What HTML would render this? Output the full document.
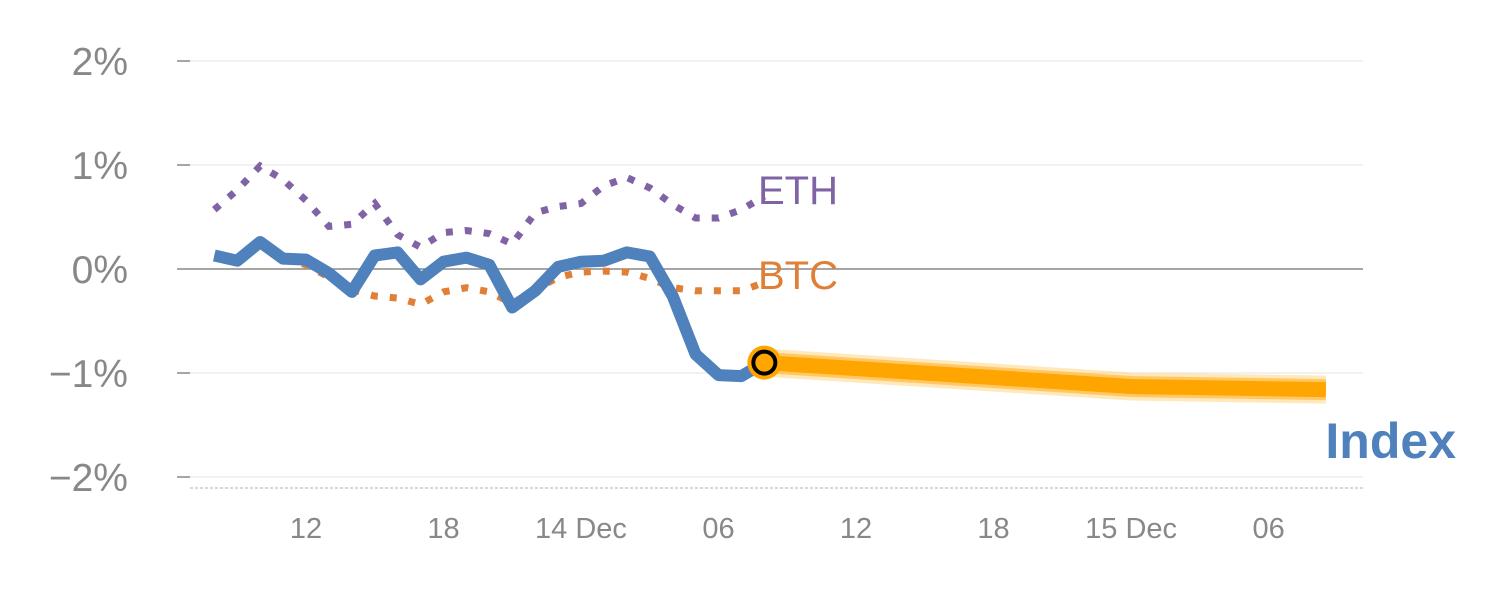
<!DOCTYPE html>
<html><head><meta charset="utf-8"><style>
body{margin:0;background:#fff;}
svg{display:block;font-family:"Liberation Sans",sans-serif;}
</style></head><body>
<svg id="chart" width="1500" height="600" viewBox="0 0 1500 600"></svg>
<script>
const yTicks=[2,1,0,-1,-2];
const xTickHours=[-12,-6,0,6,12,18,24,30];
const xTickLabels=["12","18","14 Dec","06","12","18","15 Dec","06"];
const histHours=[-16,-15,-14,-13,-12,-11,-10,-9,-8,-7,-6,-5,-4,-3,-2,-1,0,1,2,3,4,5,6,7,8];
const indexVals=[0.13,0.08,0.26,0.10,0.09,-0.04,-0.22,0.13,0.16,-0.10,0.07,0.11,0.04,-0.37,-0.21,0.02,0.07,0.08,0.16,0.12,-0.26,-0.82,-1.02,-1.03,-0.90];
const btcVals=[0.12,0.10,0.22,0.10,0.04,-0.08,-0.20,-0.26,-0.28,-0.34,-0.22,-0.18,-0.22,-0.33,-0.20,-0.08,-0.03,-0.02,-0.03,-0.09,-0.18,-0.21,-0.21,-0.21,-0.13];
const ethVals=[0.57,0.76,0.99,0.86,0.66,0.41,0.43,0.63,0.33,0.21,0.35,0.37,0.34,0.24,0.54,0.60,0.63,0.80,0.88,0.78,0.62,0.49,0.49,0.57,0.70];
const fcHours=[8,24,32.5];
const fcVals=[-0.90,-1.13,-1.16];

const svg=document.getElementById('chart');
const NS='http://www.w3.org/2000/svg';
const X=h=>581+22.92*h;
const Y=v=>269-104*v;
function mk(tag,attrs,parent){const e=document.createElementNS(NS,tag);for(const k in attrs)e.setAttribute(k,attrs[k]);(parent||svg).appendChild(e);return e;}

yTicks.forEach(v=>{
  const g=mk('line',{x1:190,x2:1363,y1:Y(v),y2:Y(v),stroke:v===0?'#888':'#e3e3e3','stroke-width':v===0?1.5:1});
  
  
  const t=mk('line',{x1:177,x2:190,y1:Y(v),y2:Y(v),stroke:'#888','stroke-width':1.5});
  
  
  const l=mk('text',{x:128,y:Y(v)+14,'text-anchor':'end','font-size':39,fill:'#888'});
  l.textContent=(v<0?'\u2212':'')+Math.abs(v)+'%';
  
  
});
const base=mk('line',{x1:190,x2:1363,y1:488,y2:488,stroke:'#ccc','stroke-width':1.5,'stroke-dasharray':'3 2'});


xTickHours.forEach((h,i)=>{
  const l=mk('text',{x:X(h),y:538,'text-anchor':'middle','font-size':29,fill:'#888'});
  l.textContent=xTickLabels[i];
  
  
});
function pts(hs,vs){return hs.map((h,i)=>X(h).toFixed(1)+','+Y(vs[i]).toFixed(1)).join(' ');}
const eth=mk('polyline',{points:pts(histHours,ethVals),fill:'none',stroke:'#7f63a5','stroke-width':7,'stroke-dasharray':'7 12'});


const btc=mk('polyline',{points:pts(histHours,btcVals),fill:'none',stroke:'#e07f35','stroke-width':7,'stroke-dasharray':'7 12'});


const idx=mk('polyline',{points:pts(histHours,indexVals),fill:'none',stroke:'#4f81bd','stroke-width':12,'stroke-linejoin':'round'});


const fcGlow=mk('polyline',{points:pts(fcHours,fcVals),fill:'none',stroke:'#ffd98a','stroke-opacity':0.6,'stroke-width':28});


const fcMid=mk('polyline',{points:pts(fcHours,fcVals),fill:'none',stroke:'#ffbb40','stroke-opacity':0.7,'stroke-width':21});


const fc=mk('polyline',{points:pts(fcHours,fcVals),fill:'none',stroke:'#ffa500','stroke-width':15});


mk('circle',{cx:X(8),cy:Y(-0.90),r:17,fill:'#ffa500'});
const dot=mk('circle',{cx:X(8),cy:Y(-0.90),r:11,fill:'#ffa500',stroke:'#000','stroke-width':4});


const le=mk('text',{x:758,y:204,'font-size':40,fill:'#7f63a5'});le.textContent='ETH';


const lb=mk('text',{x:758,y:289,'font-size':40,fill:'#e07f35'});lb.textContent='BTC';


const li=mk('text',{x:1456,y:458,'text-anchor':'end','font-size':50,'font-weight':'bold',fill:'#4f81bd'});li.textContent='Index';


</script>
</body></html>
